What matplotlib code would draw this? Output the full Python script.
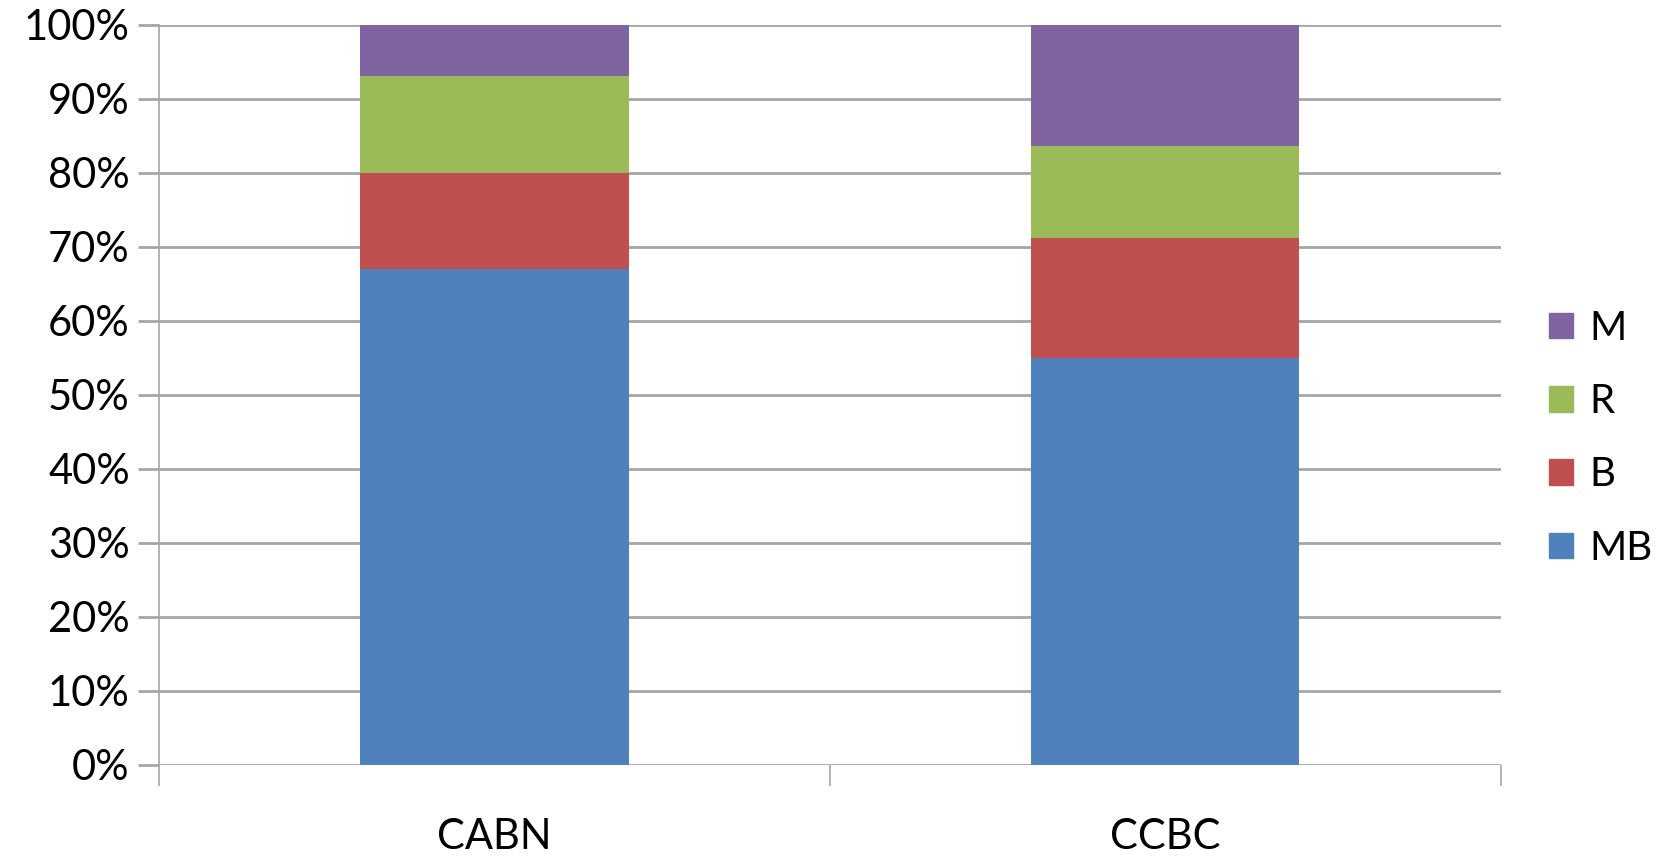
import matplotlib
matplotlib.use("Agg")
import matplotlib.pyplot as plt
import numpy as np
from matplotlib.ticker import PercentFormatter, FixedLocator
from matplotlib.patches import Patch

plt.rcParams['font.family'] = ['Lato', 'DejaVu Sans']

# share of each class per site, in percent
sites = ['CABN', 'CCBC']
mb = [67.0, 55.0]
b = [13.0, 16.2]
r = [13.0, 12.4]
m = [7.0, 16.4]

series = [('MB', mb, '#4F81BD'), ('B', b, '#C0504D'),
          ('R', r, '#9BBB59'), ('M', m, '#8064A2')]

fig = plt.figure(figsize=(16.73, 8.61), dpi=100)
ax = fig.add_axes([0.095, 0.1115, 0.802, 0.86])

x = np.arange(len(sites))
bottom = np.zeros(len(sites))
for name, vals, col in series:
    ax.bar(x, vals, width=0.4, bottom=bottom, color=col, label=name, zorder=3)
    bottom += np.array(vals)

ax.set_xlim(-0.5, len(sites) - 0.5)
ax.set_ylim(0, 100)
ax.set_yticks(np.arange(0, 101, 10))
ax.yaxis.set_major_formatter(PercentFormatter(decimals=0))
ax.grid(axis='y', color='#a6a6a6', linewidth=2, zorder=0)

for s in ['top', 'right', 'bottom']:
    ax.spines[s].set_visible(False)
ax.spines['left'].set_color('#a6a6a6')
ax.spines['left'].set_linewidth(1.2)

# category labels without tick marks, separators at the boundaries
ax.set_xticks(x)
ax.set_xticklabels(sites)
ax.tick_params(axis='x', which='major', length=0, pad=38, labelsize=30)
ax.xaxis.set_minor_locator(FixedLocator(np.arange(-0.5, len(sites), 1.0)))
ax.tick_params(axis='x', which='minor', length=15, width=1.2, color='#a6a6a6',
               direction='out')
ax.tick_params(axis='y', length=15, width=2, color='#a6a6a6', labelsize=30, pad=6)

handles = [Patch(color=col, label=name) for name, vals, col in series][::-1]
fig.legend(handles=handles, loc='center left', bbox_to_anchor=(0.914, 0.491),
           frameon=False, fontsize=29, handlelength=0.6, handleheight=0.6,
           handletextpad=0.4, labelspacing=0.9, borderpad=0)

fig.savefig('out.png', dpi=100)
